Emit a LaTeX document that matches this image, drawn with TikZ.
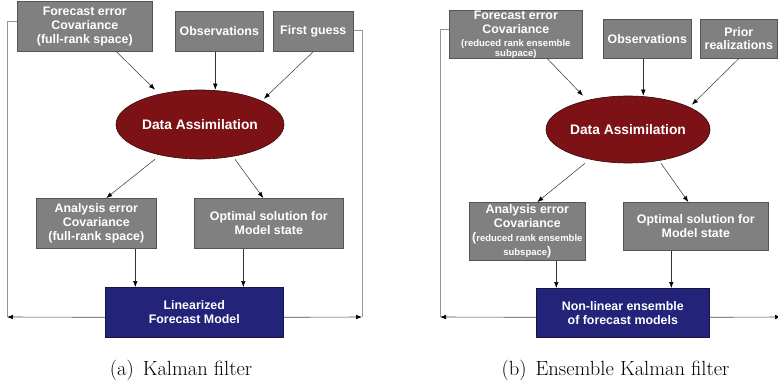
\documentclass[tikz,border=0pt]{standalone}
\usepackage{fontspec}
\setsansfont{Liberation Sans}
\usetikzlibrary{arrows.meta,shapes.geometric}
\definecolor{boxgray}{RGB}{128,128,128}
\definecolor{boxedge}{RGB}{85,85,85}
\definecolor{dared}{RGB}{124,18,21}
\definecolor{daedge}{RGB}{55,8,10}
\definecolor{navyfill}{RGB}{35,35,122}
\definecolor{navyedge}{RGB}{20,20,70}
\definecolor{fbgray}{RGB}{150,150,150}
\newcommand\bigf{\fontsize{12.4}{14}\selectfont}
\newcommand\smallf{\fontsize{9.5}{11}\selectfont}
\begin{document}
\begin{tikzpicture}[x=1pt,y=-1pt,
  box/.style={draw=boxedge, line width=0.6pt, fill=boxgray, text=white, font=\sffamily\bfseries\bigf, align=center, inner sep=0pt, anchor=north west},
  model/.style={box, draw=navyedge, fill=navyfill},
  da/.style={ellipse, draw=daedge, line width=0.6pt, fill=dared, text=white, font=\sffamily\bfseries\fontsize{13.8}{16}\selectfont, inner sep=0pt},
  arr/.style={draw=black!80, line width=0.5pt, -{Latex[length=6pt,width=4.5pt,color=black]}},
  fb/.style={draw=fbgray, line width=0.7pt},
  fbarr/.style={draw=black!70, line width=0.6pt, -{Latex[length=6pt,width=4.5pt,color=black]}},
  captext/.style={font=\fontsize{20.5}{24}\selectfont, inner sep=0pt}]
\useasboundingbox (0,0) rectangle (778,387);
\clip (0,0) rectangle (778,387);
\fill[white] (0,0) rectangle (778,387);

% ---------- panel (a) ----------
\node[box, minimum width=135pt, minimum height=50pt] (fa) at (17,1) {Forecast error\\Covariance\\(full-rank space)};
\node[box, minimum width=88pt, minimum height=40pt] (ob) at (175,11) {Observations};
\node[box, minimum width=80pt, minimum height=40pt] (fg) at (273,11) {First guess};
\node[da, minimum width=168pt, minimum height=69pt] (da) at (200,124.5) {Data Assimilation};
\node[box, minimum width=120pt, minimum height=50pt] (an) at (36,198) {Analysis error\\Covariance\\(full-rank space)};
\node[box, minimum width=149pt, minimum height=50pt] (op) at (194,198) {Optimal solution for\\Model state};
\node[model, minimum width=178pt, minimum height=50pt] (lm) at (105,287) {Linearized\\Forecast Model};

\draw[arr] ([xshift=31.5pt]fa.south) -- ([xshift=-45pt]da.north);
\draw[arr] ([xshift=-4pt]ob.south) -- ([xshift=-4pt]ob.south |- da.north);
\draw[arr] (fg.south) -- ([xshift=64pt,yshift=-9pt]da.north);
\draw[arr] ([xshift=-45pt]da.south) -- ([xshift=10pt]an.north);
\draw[arr] ([xshift=35pt]da.south) -- ([xshift=-5.5pt]op.north);
\draw[arr] ([xshift=39pt]an.south) -- ([xshift=39pt]an.south |- lm.north);
\draw[arr] ([xshift=-25.5pt]op.south) -- ([xshift=-25.5pt]op.south |- lm.north);

\coordinate (cLt) at (7,21);
\coordinate (cL) at (7,317);
\coordinate (cRt) at (362,30);
\coordinate (cR) at (362,317);
\draw[fb] (cLt -| fa.west) -- (cLt) -- (cL);
\draw[fbarr] ([yshift=-5pt]lm.west) -- (cL);
\draw[fb] (cRt -| fg.east) -- (cRt) -- (cR);
\draw[fbarr] ([yshift=-5pt]lm.east) -- (cR);

\node[captext] (capa) at (181,370) {(a)\hspace{9pt}Kalman filter};

% ---------- panel (b) ----------
\node[box, minimum width=133pt, minimum height=48pt] (fa2) at (449,10) {Forecast error\\Covariance\\[-1pt]{\smallf(reduced rank ensemble}\\[-4pt]{\smallf subpace)}};
\node[box, minimum width=88pt, minimum height=39pt] (ob2) at (603,19) {Observations};
\node[box, minimum width=77pt, minimum height=39pt] (pr2) at (700,19) {Prior\\[-1pt]realizations};
\node[da, minimum width=164pt, minimum height=67pt] (da2) at (628,129.5) {Data Assimilation};
\node[box, minimum width=116pt, minimum height=58pt] (an2) at (469,202) {Analysis error\\Covariance\\({\smallf reduced rank ensemble}\\{\smallf subspace})};
\node[box, minimum width=145pt, minimum height=48pt] (op2) at (623,202) {Optimal solution for\\Model state};
\node[model, minimum width=173pt, minimum height=49pt] (nl2) at (536,288) {Non-linear ensemble\\of forecast models};

\draw[arr] ([xshift=31.5pt]fa2.south) -- ([xshift=-45pt]da2.north);
\draw[arr] ([xshift=-4pt]ob2.south) -- ([xshift=-4pt]ob2.south |- da2.north);
\draw[arr] (pr2.south) -- ([xshift=64pt,yshift=-9pt]da2.north);
\draw[arr] ([xshift=-43pt]da2.south) -- ([xshift=10pt]an2.north);
\draw[arr] ([xshift=33pt]da2.south) -- ([xshift=-7.5pt]op2.north);
\draw[arr] ([xshift=29pt]an2.south) -- ([xshift=29pt]an2.south |- nl2.north);
\draw[arr] ([xshift=-24.5pt]op2.south) -- ([xshift=-24.5pt]op2.south |- nl2.north);

\coordinate (dLt) at (440,29);
\coordinate (dL) at (440,317);
\coordinate (dRt) at (781,38);
\coordinate (dR) at (781,317);
\draw[fb] (dLt -| fa2.west) -- (dLt) -- (dL);
\draw[fbarr] ([yshift=-4.5pt]nl2.west) -- (dL);
\draw[fb] (dRt -| pr2.east) -- (dRt) -- (dR);
\draw[fbarr] ([yshift=-4.5pt]nl2.east) -- (dR);

\node[captext] (capb) at (615.5,370) {(b)\hspace{9pt}Ensemble Kalman filter};
\end{tikzpicture}
\end{document}
